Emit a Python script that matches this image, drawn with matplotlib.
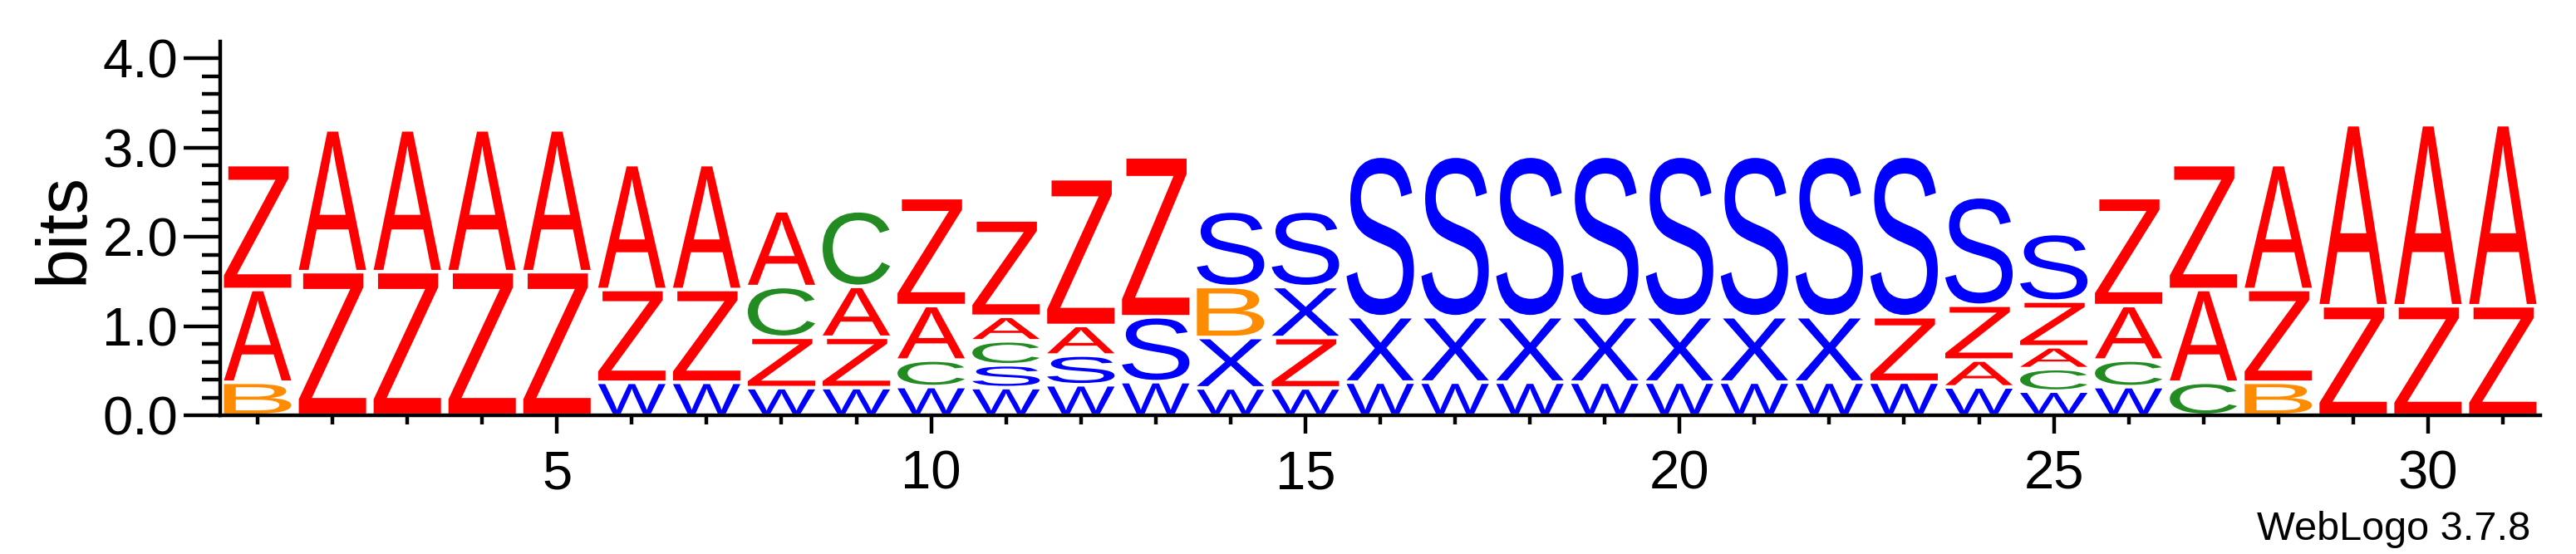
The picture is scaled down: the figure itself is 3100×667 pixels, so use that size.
import matplotlib

matplotlib.use("Agg")
import matplotlib.pyplot as plt
from matplotlib.font_manager import FontProperties
from matplotlib.patches import PathPatch
from matplotlib.textpath import TextPath
from matplotlib.ticker import FormatStrFormatter, MultipleLocator
from matplotlib.transforms import Affine2D

plt.rcParams["font.family"] = ["Liberation Sans", "DejaVu Sans"]

# sequence logo data: letters per position, bottom to top, with heights in bits
positions = list(range(1, 32))
stack_letters = [
    "BAZ", "ZA", "ZA", "ZA", "ZA", "WZA", "WZA", "WZCA", "WZAC", "WCAZ",
    "WSCAZ", "WSAZ", "WSZ", "WXBS", "WZXS", "WXS", "WXS", "WXS", "WXS", "WXS",
    "WXS", "WXS", "WZS", "WAZS", "WCAZS", "WCAZ", "CAZ", "BZA", "ZA", "ZA", "ZA",
]
stack_heights = [
    [0.37, 1.04, 1.40], [1.61, 1.59], [1.61, 1.59], [1.61, 1.59], [1.61, 1.59],
    [0.37, 1.04, 1.40], [0.37, 1.04, 1.40],
    [0.31, 0.565, 0.568, 0.85], [0.31, 0.565, 0.57, 0.848],
    [0.322, 0.297, 0.611, 1.21],
    [0.31, 0.256, 0.269, 0.275, 1.08],
    [0.342, 0.333, 0.332, 1.645],
    [0.377, 0.728, 1.792],
    [0.307, 0.565, 0.571, 0.847], [0.307, 0.565, 0.571, 0.847],
    [0.372, 0.733, 1.80], [0.372, 0.733, 1.80], [0.372, 0.733, 1.80],
    [0.372, 0.733, 1.80], [0.372, 0.733, 1.80], [0.372, 0.733, 1.80],
    [0.372, 0.733, 1.80], [0.372, 0.733, 1.80],
    [0.318, 0.301, 0.615, 1.216],
    [0.271, 0.252, 0.245, 0.512, 0.757],
    [0.321, 0.298, 0.611, 1.21],
    [0.37, 1.04, 1.40], [0.37, 1.04, 1.40],
    [1.228, 2.03], [1.228, 2.03], [1.228, 2.03],
]
letter_colors = {
    "A": "#ff0000", "Z": "#ff0000",
    "S": "#0000ff", "W": "#0000ff", "X": "#0000ff",
    "C": "#228b22", "B": "#ff8c00",
}

GLYPH_FONT = FontProperties(family="Liberation Sans")


def draw_letter(ax, letter, x, y, height, width=0.9, pad=0.02):
    glyph_height = height - 2 * pad
    if glyph_height <= 0:
        return
    path = TextPath((0, 0), letter, size=1, prop=GLYPH_FONT)
    ext = path.get_extents()
    tf = (
        Affine2D()
        .translate(-ext.x0, -ext.y0)
        .scale(width / ext.width, glyph_height / ext.height)
        .translate(x - width / 2, y + pad)
    )
    ax.add_patch(PathPatch(tf.transform_path(path), facecolor=letter_colors[letter], edgecolor="none", lw=0))


fig = plt.figure(figsize=(31, 6.67), dpi=100)
ax = fig.add_axes([265 / 3100, 167 / 667, 2792 / 3100, 450 / 667])

for pos, letters, heights in zip(positions, stack_letters, stack_heights):
    base = 0.0
    for letter, h in zip(letters, heights):
        draw_letter(ax, letter, pos, base, h)
        base += h

ax.set_xlim(0.5, 31.5)
ax.set_ylim(0, 4.19)
for side in ("top", "right"):
    ax.spines[side].set_visible(False)
for side in ("left", "bottom"):
    ax.spines[side].set_linewidth(3.2)

ax.xaxis.set_major_locator(MultipleLocator(5))
ax.xaxis.set_minor_locator(MultipleLocator(1))
ax.yaxis.set_major_locator(MultipleLocator(1))
ax.yaxis.set_minor_locator(MultipleLocator(0.2))
ax.yaxis.set_major_formatter(FormatStrFormatter("%.1f"))

ax.tick_params(axis="y", which="major", direction="out", length=31.7, width=3.2, labelsize=47, pad=5)
ax.tick_params(axis="y", which="minor", direction="out", length=15.8, width=3.2)
ax.tick_params(axis="x", which="major", direction="out", length=15.8, width=3.2, labelsize=47, pad=14)
ax.tick_params(axis="x", which="minor", direction="out", length=7.9, width=3.2)

fig.text(78 / 3100, 1 - 274.5 / 667, "bits", rotation=90, ha="center", va="center", fontsize=62)
fig.text(3045 / 3100, 17 / 667, "WebLogo 3.7.8", ha="right", va="baseline", fontsize=35)

fig.savefig("out.png", dpi=100)
